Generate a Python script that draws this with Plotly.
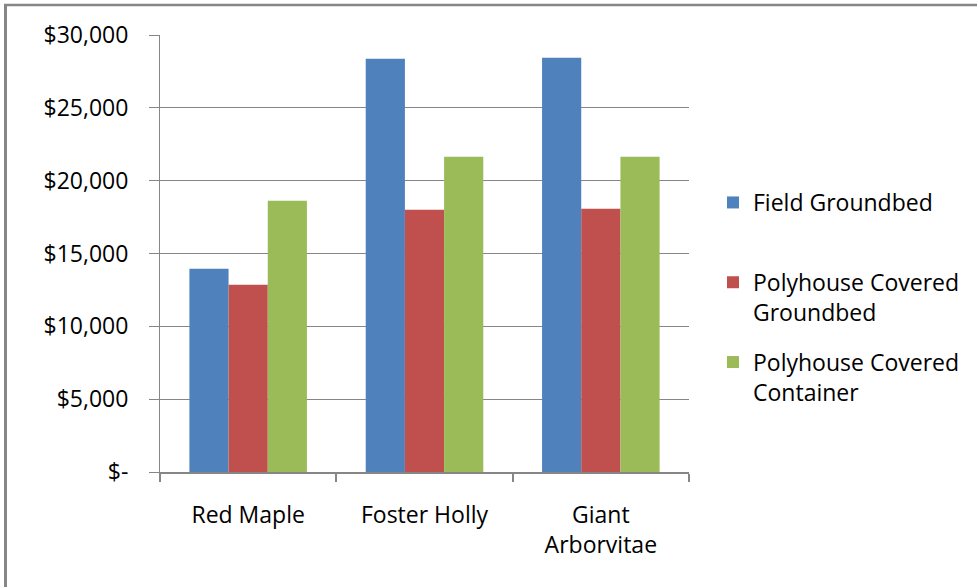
import plotly.graph_objects as go

# Cost by plant species and production system
categories = ["Red Maple", "Foster Holly", "Giant<br>Arborvitae"]
series_names = ["Field Groundbed", "Polyhouse Covered<br>Groundbed", "Polyhouse Covered<br>Container"]
field_groundbed = [13950, 28370, 28440]
polyhouse_groundbed = [12860, 18010, 18080]
polyhouse_container = [18620, 21650, 21650]
series_values = [field_groundbed, polyhouse_groundbed, polyhouse_container]
series_colors = ["#4F81BD", "#C0504D", "#9BBB59"]

y_tick_values = [0, 5000, 10000, 15000, 20000, 25000, 30000]
y_tick_labels = ["$-", "$5,000", "$10,000", "$15,000", "$20,000", "$25,000", "$30,000"]

W, H = 977, 587
ML, MR, MT, MB = 160, 288, 35, 115
GRAY = "#868686"
FONT = dict(family="Open Sans, sans-serif", size=23, color="#000000")

fig = go.Figure()
for i, (name, vals, col) in enumerate(zip(series_names, series_values, series_colors)):
    # pad single-line legend entries so every entry takes two lines
    label = name if "<br>" in name else name + "<br> "
    fig.add_trace(go.Bar(
        x=categories, y=vals, name=label, marker=dict(color=col, line=dict(width=0)),
        legendgroup=f"g{i}",
    ))

# pixel -> paper helpers for the outer frame
pw, ph = W - ML - MR, H - MT - MB
def px_x(p):
    return (p - ML) / pw
def px_y(p):
    return (H - MB - p) / ph

fig.update_layout(
    width=W, height=H,
    margin=dict(l=ML, r=MR, t=MT, b=MB, pad=0, autoexpand=False),
    paper_bgcolor="white", plot_bgcolor="white",
    barmode="group", bargap=1/3, bargroupgap=0,
    font=FONT,
    showlegend=True,
    legend=dict(
        x=px_x(713), xanchor="left", y=px_y(181), yanchor="top",
        traceorder="grouped", tracegroupgap=17, valign="top",
        font=FONT, bgcolor="rgba(0,0,0,0)",
    ),
    xaxis=dict(
        type="category", showgrid=False, zeroline=False,
        showline=True, linecolor=GRAY, linewidth=1.5,
        ticks="outside", tickson="boundaries", ticklen=8, tickcolor=GRAY, tickwidth=1.5,
        ticklabelstandoff=22,
    ),
    yaxis=dict(
        range=[0, 30000], tickvals=y_tick_values, ticktext=y_tick_labels,
        showgrid=True, gridcolor=GRAY, gridwidth=1.3, zeroline=False,
        showline=True, linecolor=GRAY, linewidth=1,
        ticks="outside", ticklen=10, tickcolor=GRAY, tickwidth=1.3,
        ticklabelstandoff=16,
    ),
    shapes=[
        dict(type="line", xref="paper", yref="paper", x0=px_x(4), x1=px_x(977),
             y0=px_y(5), y1=px_y(5), line=dict(color=GRAY, width=2.5)),
        dict(type="line", xref="paper", yref="paper", x0=px_x(5.5), x1=px_x(5.5),
             y0=px_y(4), y1=px_y(587), line=dict(color=GRAY, width=3)),
    ],
)

fig.write_html("out.html")
